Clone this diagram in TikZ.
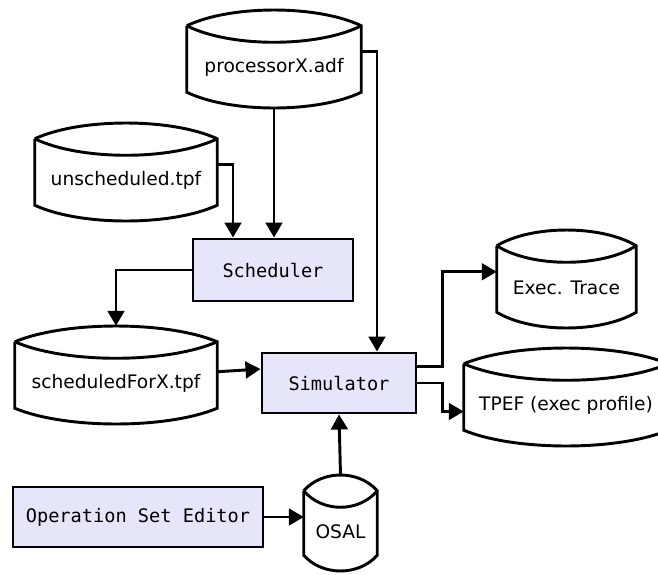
\documentclass[tikz,border=0pt]{standalone}
\usepackage{fontspec}
\setmainfont{DejaVu Sans}
\setmonofont{DejaVu Sans Mono}
\usepackage{tikz}
\usetikzlibrary{arrows.meta,calc}
\definecolor{toolfill}{HTML}{E6E6FA}
\tikzstyle{tool} = [draw, fill=toolfill, line width=2.5pt, font=\ttfamily\fontsize{15.9}{19}\selectfont, text centered, inner sep=0pt]
\tikzstyle{store} = [inner sep=0pt, font=\fontsize{15.9}{19}\selectfont, text centered, minimum height=1.47cm]
\tikzstyle{storeline} = [line width=2.5pt, line join=miter]
\tikzstyle{flow} = [line width=2.5pt, -{Triangle[length=0.45cm,width=0.5cm]}]
\newcommand{\drawstore}[1]{%
  \draw[storeline] ($(#1.north west)+(0,-17)$) -- (#1.south west)
    .. controls ($(#1.south west)!0.25!(#1.south east)+(0,21)$) and ($(#1.south west)!0.75!(#1.south east)+(0,21)$) .. (#1.south east)
    -- ($(#1.north east)+(0,-17)$)
    .. controls ($(#1.north west)!0.75!(#1.north east)+(0,-38)$) and ($(#1.north west)!0.25!(#1.north east)+(0,-38)$) .. ($(#1.north west)+(0,-17)$);
  \draw[storeline] ($(#1.north west)+(0,-17)$)
    .. controls ($(#1.north west)!0.25!(#1.north east)+(0,5)$) and ($(#1.north west)!0.75!(#1.north east)+(0,5)$) .. ($(#1.north east)+(0,-17)$);
}

\begin{document}
\begin{tikzpicture}[x=0.03cm,y=-0.03cm]
	\useasboundingbox (0,0) rectangle (658,574);
	\node[store, minimum width=5.22cm] (proc) at (274,67.5) {processorX.adf};
	\node[store, minimum width=5.46cm] (unsched) at (126,180.5) {unscheduled.tpf};
	\node[store, minimum width=6.06cm] (schedX) at (116,383.5) {scheduledForX.tpf};
	\node[store, minimum width=4.17cm] (trace) at (566.5,287.5) {Exec. Trace};
	\node[store, minimum width=6.12cm] (tpef) at (566,405.5) {TPEF (exec profile)};
	\node[store, minimum width=2.19cm, minimum height=1.41cm] (osal) at (340.5,531.5) {OSAL};
	\drawstore{proc}
	\drawstore{unsched}
	\drawstore{schedX}
	\drawstore{trace}
	\drawstore{tpef}
	\drawstore{osal}
	\node[tool, minimum width=4.8cm, minimum height=1.86cm] (sched) at (273,270) {Scheduler};
	\node[tool, minimum width=4.62cm, minimum height=1.8cm] (sim) at (339,383) {Simulator};
	\node[tool, minimum width=7.5cm, minimum height=1.8cm] (ose) at (138,517) {Operation Set Editor};
	\draw[flow] ($(proc.south)+(0,16)$) -- (sched.north -| proc.south);
	\draw[flow] ($(unsched.north east)+(0,9)$) -| ($(sched.north)+(-40,0)$);
	\draw[flow] ($(proc.north east)+(0,9)$) -| ($(sim.north)+(38,0)$);
	\draw[flow] (sched.west) -| ($(schedX.north)+(0,-33)$);
	\draw[flow] ($(schedX.north east)+(0,13)$) -- ($(sim.west)+(0,-14)$);
	\draw[flow] ($(sim.north east)+(0,15)$) -- ++(25,0) |- ($(trace.north west)+(0,9)$);
	\draw[flow] (sim.east) -- ++(25,0) |- ($(tpef.west)+(0,6)$);
	\draw[flow] ($(osal.north)+(0,-33)$) -- (sim.south);
	\draw[flow] (ose.east) -- (osal.west |- ose.east);
\end{tikzpicture}
\end{document}
